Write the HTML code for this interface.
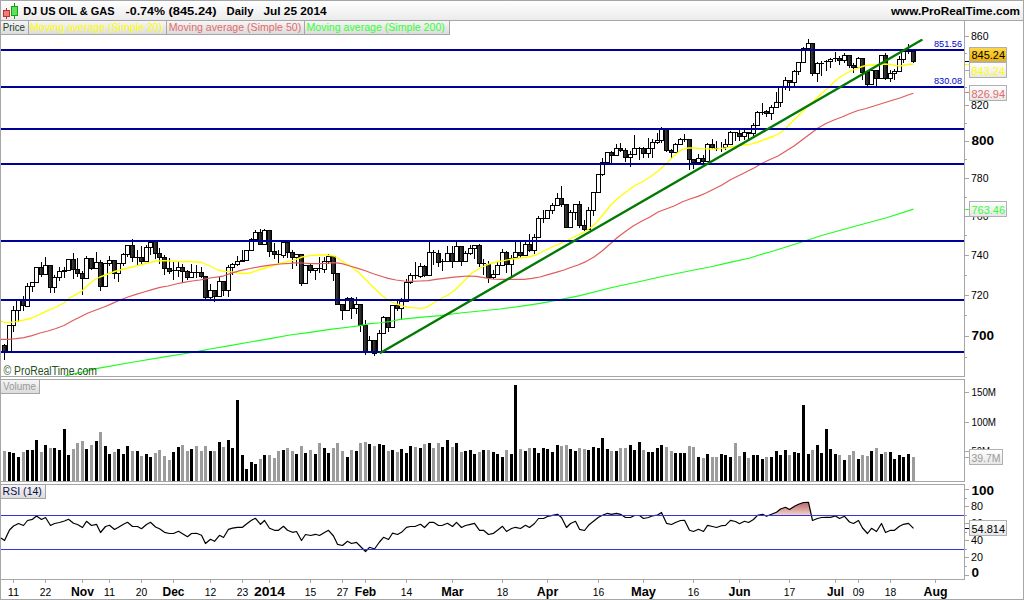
<!DOCTYPE html>
<html lang="en"><head><meta charset="utf-8"><title>DJ US OIL &amp; GAS - Daily chart</title>
<style>
html,body{margin:0;padding:0;background:#fff;}
body{width:1024px;height:600px;overflow:hidden;position:relative;font-family:'Liberation Sans', sans-serif;}
svg{position:absolute;left:0;top:0;display:block;}
text{font-family:'Liberation Sans', sans-serif;}
.ax{font-size:11px;fill:#000;}
.axb{font-size:13px;font-weight:bold;fill:#000;}
.xl{font-size:11px;fill:#000;text-anchor:middle;}
.xb{font-size:12.5px;font-weight:bold;fill:#000;text-anchor:middle;}
.tt{font-size:11px;font-weight:bold;fill:#000;}
.tab{font-size:11px;}
</style></head><body>
<svg width="1024" height="600" viewBox="0 0 1024 600">
<defs>
<linearGradient id="gTitle" x1="0" y1="0" x2="0" y2="1"><stop offset="0" stop-color="#ffffff"/><stop offset="1" stop-color="#ebebeb"/></linearGradient>
<linearGradient id="gTab" x1="0" y1="0" x2="0" y2="1"><stop offset="0" stop-color="#f6f6f6"/><stop offset="1" stop-color="#dcdcdc"/></linearGradient>
<linearGradient id="gBox" x1="0" y1="0" x2="0" y2="1"><stop offset="0" stop-color="#ffffff"/><stop offset="1" stop-color="#e6e6e6"/></linearGradient>
<linearGradient id="gGold" x1="0" y1="0" x2="0" y2="1"><stop offset="0" stop-color="#ffd84a"/><stop offset="1" stop-color="#efb200"/></linearGradient>
<linearGradient id="gCan" x1="0" y1="0" x2="1" y2="0"><stop offset="0" stop-color="#4a4a4a"/><stop offset="1" stop-color="#0a0a0a"/></linearGradient>
<linearGradient id="gRsi" gradientUnits="userSpaceOnUse" x1="0" y1="502" x2="0" y2="515"><stop offset="0" stop-color="#b86464"/><stop offset="1" stop-color="#f2d2c8"/></linearGradient>
<clipPath id="cRsi"><rect x="1" y="485" width="963" height="30"/></clipPath>
<clipPath id="cMain"><rect x="1" y="21" width="963" height="355"/></clipPath>
</defs>
<rect x="0" y="0" width="1024" height="600" fill="#fff"/>
<rect x="1" y="1" width="1022" height="19" fill="url(#gTitle)"/>
<g shape-rendering="crispEdges" fill="#a6a6a6">
<rect x="0" y="0" width="1024" height="1"/>
<rect x="0" y="599" width="1024" height="1"/>
<rect x="0" y="0" width="1" height="600"/>
<rect x="1023" y="0" width="1" height="600"/>
<rect x="0" y="20" width="1024" height="1"/>
<rect x="0" y="376" width="965" height="1"/>
<rect x="0" y="379" width="965" height="1"/>
<rect x="0" y="481" width="965" height="1"/>
<rect x="0" y="484" width="965" height="1"/>
<rect x="0" y="579" width="965" height="1"/>
<rect x="964" y="21" width="1" height="356"/>
<rect x="964" y="379" width="1" height="103"/>
<rect x="964" y="484" width="1" height="96"/>
</g>
<g shape-rendering="crispEdges">
<rect x="1" y="21" width="449" height="13" fill="url(#gTab)"/>
<rect x="0" y="34" width="450" height="1" fill="#a6a6a6"/>
<rect x="28" y="21" width="1" height="14" fill="#a6a6a6"/>
<rect x="166" y="21" width="1" height="14" fill="#a6a6a6"/>
<rect x="304" y="21" width="1" height="14" fill="#a6a6a6"/>
<rect x="449" y="21" width="1" height="14" fill="#a6a6a6"/>
<rect x="1" y="380" width="38" height="13" fill="url(#gTab)"/>
<rect x="1" y="393" width="39" height="1" fill="#a6a6a6"/><rect x="39" y="380" width="1" height="14" fill="#a6a6a6"/>
<rect x="1" y="485" width="44" height="13" fill="url(#gTab)"/>
<rect x="1" y="498" width="45" height="1" fill="#a6a6a6"/><rect x="45" y="485" width="1" height="14" fill="#a6a6a6"/>
</g>
<g shape-rendering="crispEdges">
<rect x="6" y="8" width="1" height="11" fill="#c03030"/>
<rect x="3.5" y="10.5" width="6" height="6" fill="#f07a7a" stroke="#c03030" stroke-width="1"/>
<rect x="14" y="3" width="1" height="16" fill="#18a018"/>
<rect x="11.5" y="6.5" width="6" height="9" fill="#5fe05f" stroke="#18a018" stroke-width="1"/>
</g>
<text x="23.2" y="15.0" class="tt" textLength="91.4" lengthAdjust="spacingAndGlyphs">DJ US OIL &amp; GAS</text>
<text x="125.6" y="15.0" class="tt" textLength="39.4" lengthAdjust="spacingAndGlyphs">-0.74%</text>
<text x="168.4" y="15.0" class="tt" textLength="48.2" lengthAdjust="spacingAndGlyphs">(845.24)</text>
<text x="226.6" y="15.0" class="tt" textLength="26.9" lengthAdjust="spacingAndGlyphs">Daily</text>
<text x="263.5" y="15.0" class="tt" textLength="63.1" lengthAdjust="spacingAndGlyphs">Jul 25 2014</text>
<text x="891.0" y="15.0" class="tt" textLength="129.0" lengthAdjust="spacingAndGlyphs">www.ProRealTime.com</text>
<text x="2.8" y="31.0" class="tab" textLength="22.2" lengthAdjust="spacingAndGlyphs" fill="#20402a">Price</text>
<text x="30.3" y="31.0" class="tab" textLength="131.9" lengthAdjust="spacingAndGlyphs" fill="#ffff00">Moving average (Simple 20)</text>
<text x="168.8" y="31.0" class="tab" textLength="132.4" lengthAdjust="spacingAndGlyphs" fill="#e26a6a">Moving average (Simple 50)</text>
<text x="306.5" y="31.0" class="tab" textLength="138.3" lengthAdjust="spacingAndGlyphs" fill="#33ff33">Moving average (Simple 200)</text>
<text x="3.0" y="390.0" class="tab" textLength="33.0" lengthAdjust="spacingAndGlyphs" fill="#9a9a9a">Volume</text>
<text x="2.6" y="495.2" class="tab" textLength="39.3" lengthAdjust="spacingAndGlyphs" fill="#0c0c50">RSI (14)</text>
<g clip-path="url(#cMain)">
<g shape-rendering="crispEdges">
<rect x="4" y="344" width="1" height="16" fill="#000"/>
<rect x="2.5" y="345.5" width="4" height="6.0" fill="url(#gCan)" stroke="#000" stroke-width="1"/>
<rect x="9" y="325" width="1" height="27" fill="#000"/>
<rect x="7.5" y="325.5" width="4" height="26.0" fill="#fff" stroke="#000" stroke-width="1"/>
<rect x="13" y="306" width="1" height="26" fill="#000"/>
<rect x="11.5" y="310.5" width="4" height="15.0" fill="#fff" stroke="#000" stroke-width="1"/>
<rect x="18" y="300" width="1" height="22" fill="#000"/>
<rect x="16.5" y="300.5" width="4" height="10.0" fill="#fff" stroke="#000" stroke-width="1"/>
<rect x="23" y="296" width="1" height="15" fill="#000"/>
<rect x="21.5" y="300.5" width="4" height="5.0" fill="url(#gCan)" stroke="#000" stroke-width="1"/>
<rect x="27" y="283" width="1" height="24" fill="#000"/>
<rect x="25.5" y="286.5" width="4" height="20.0" fill="#fff" stroke="#000" stroke-width="1"/>
<rect x="32" y="282" width="1" height="10" fill="#000"/>
<rect x="30.5" y="282.5" width="4" height="4.0" fill="#fff" stroke="#000" stroke-width="1"/>
<rect x="36" y="267" width="1" height="16" fill="#000"/>
<rect x="34.5" y="267.5" width="4" height="15.0" fill="#fff" stroke="#000" stroke-width="1"/>
<rect x="41" y="262" width="1" height="15" fill="#000"/>
<rect x="39.5" y="267.5" width="4" height="7.0" fill="url(#gCan)" stroke="#000" stroke-width="1"/>
<rect x="45" y="257" width="1" height="18" fill="#000"/>
<rect x="43.5" y="265.5" width="4" height="9.0" fill="#fff" stroke="#000" stroke-width="1"/>
<rect x="50" y="265" width="1" height="28" fill="#000"/>
<rect x="48.5" y="265.5" width="4" height="22.0" fill="url(#gCan)" stroke="#000" stroke-width="1"/>
<rect x="54" y="275" width="1" height="18" fill="#000"/>
<rect x="52.5" y="277.5" width="4" height="10.0" fill="#fff" stroke="#000" stroke-width="1"/>
<rect x="59" y="267" width="1" height="14" fill="#000"/>
<rect x="57.5" y="271.5" width="4" height="6.0" fill="#fff" stroke="#000" stroke-width="1"/>
<rect x="64" y="267" width="1" height="11" fill="#000"/>
<rect x="62.5" y="270.5" width="4" height="1.0" fill="#fff" stroke="#000" stroke-width="1"/>
<rect x="68" y="259" width="1" height="12" fill="#000"/>
<rect x="66.5" y="259.5" width="4" height="11.0" fill="#fff" stroke="#000" stroke-width="1"/>
<rect x="73" y="253" width="1" height="26" fill="#000"/>
<rect x="71.5" y="259.5" width="4" height="10.0" fill="url(#gCan)" stroke="#000" stroke-width="1"/>
<rect x="77" y="258" width="1" height="19" fill="#000"/>
<rect x="75.5" y="269.5" width="4" height="4.0" fill="url(#gCan)" stroke="#000" stroke-width="1"/>
<rect x="82" y="271" width="1" height="24" fill="#000"/>
<rect x="80.5" y="273.5" width="4" height="5.0" fill="url(#gCan)" stroke="#000" stroke-width="1"/>
<rect x="86" y="256" width="1" height="23" fill="#000"/>
<rect x="84.5" y="258.5" width="4" height="20.0" fill="#fff" stroke="#000" stroke-width="1"/>
<rect x="91" y="258" width="1" height="12" fill="#000"/>
<rect x="89.5" y="258.5" width="4" height="10.0" fill="url(#gCan)" stroke="#000" stroke-width="1"/>
<rect x="96" y="252" width="1" height="17" fill="#000"/>
<rect x="94.5" y="262.5" width="4" height="6.0" fill="#fff" stroke="#000" stroke-width="1"/>
<rect x="100" y="260" width="1" height="31" fill="#000"/>
<rect x="98.5" y="262.5" width="4" height="24.0" fill="url(#gCan)" stroke="#000" stroke-width="1"/>
<rect x="105" y="263" width="1" height="24" fill="#000"/>
<rect x="103.5" y="263.5" width="4" height="23.0" fill="#fff" stroke="#000" stroke-width="1"/>
<rect x="109" y="256" width="1" height="10" fill="#000"/>
<rect x="107.5" y="260.5" width="4" height="3.0" fill="#fff" stroke="#000" stroke-width="1"/>
<rect x="114" y="260" width="1" height="19" fill="#000"/>
<rect x="112.5" y="260.5" width="4" height="13.0" fill="url(#gCan)" stroke="#000" stroke-width="1"/>
<rect x="118" y="263" width="1" height="19" fill="#000"/>
<rect x="116.5" y="263.5" width="4" height="10.0" fill="#fff" stroke="#000" stroke-width="1"/>
<rect x="123" y="253" width="1" height="13" fill="#000"/>
<rect x="121.5" y="254.5" width="4" height="9.0" fill="#fff" stroke="#000" stroke-width="1"/>
<rect x="127" y="245" width="1" height="12" fill="#000"/>
<rect x="125.5" y="245.5" width="4" height="9.0" fill="#fff" stroke="#000" stroke-width="1"/>
<rect x="132" y="239" width="1" height="23" fill="#000"/>
<rect x="130.5" y="245.5" width="4" height="12.0" fill="url(#gCan)" stroke="#000" stroke-width="1"/>
<rect x="137" y="250" width="1" height="16" fill="#000"/>
<rect x="135" y="257" width="5" height="1" fill="#000"/>
<rect x="141" y="246" width="1" height="19" fill="#000"/>
<rect x="139.5" y="257.5" width="4" height="4.0" fill="url(#gCan)" stroke="#000" stroke-width="1"/>
<rect x="146" y="245" width="1" height="17" fill="#000"/>
<rect x="144.5" y="247.5" width="4" height="14.0" fill="#fff" stroke="#000" stroke-width="1"/>
<rect x="150" y="242" width="1" height="13" fill="#000"/>
<rect x="148.5" y="242.5" width="4" height="5.0" fill="#fff" stroke="#000" stroke-width="1"/>
<rect x="155" y="241" width="1" height="18" fill="#000"/>
<rect x="153.5" y="241.5" width="4" height="12.0" fill="url(#gCan)" stroke="#000" stroke-width="1"/>
<rect x="159" y="248" width="1" height="16" fill="#000"/>
<rect x="157.5" y="253.5" width="4" height="4.0" fill="url(#gCan)" stroke="#000" stroke-width="1"/>
<rect x="164" y="255" width="1" height="20" fill="#000"/>
<rect x="162.5" y="257.5" width="4" height="11.0" fill="url(#gCan)" stroke="#000" stroke-width="1"/>
<rect x="169" y="258" width="1" height="16" fill="#000"/>
<rect x="167.5" y="268.5" width="4" height="3.0" fill="url(#gCan)" stroke="#000" stroke-width="1"/>
<rect x="173" y="262" width="1" height="18" fill="#000"/>
<rect x="171" y="270" width="5" height="1" fill="#000"/>
<rect x="178" y="262" width="1" height="15" fill="#000"/>
<rect x="176.5" y="267.5" width="4" height="3.0" fill="#fff" stroke="#000" stroke-width="1"/>
<rect x="182" y="264" width="1" height="19" fill="#000"/>
<rect x="180.5" y="267.5" width="4" height="4.0" fill="url(#gCan)" stroke="#000" stroke-width="1"/>
<rect x="187" y="270" width="1" height="10" fill="#000"/>
<rect x="185.5" y="271.5" width="4" height="6.0" fill="url(#gCan)" stroke="#000" stroke-width="1"/>
<rect x="191" y="264" width="1" height="14" fill="#000"/>
<rect x="189.5" y="272.5" width="4" height="5.0" fill="#fff" stroke="#000" stroke-width="1"/>
<rect x="196" y="265" width="1" height="13" fill="#000"/>
<rect x="194" y="272" width="5" height="1" fill="#000"/>
<rect x="201" y="267" width="1" height="11" fill="#000"/>
<rect x="199.5" y="272.5" width="4" height="4.0" fill="url(#gCan)" stroke="#000" stroke-width="1"/>
<rect x="205" y="276" width="1" height="24" fill="#000"/>
<rect x="203.5" y="276.5" width="4" height="21.0" fill="url(#gCan)" stroke="#000" stroke-width="1"/>
<rect x="210" y="284" width="1" height="16" fill="#000"/>
<rect x="208.5" y="290.5" width="4" height="7.0" fill="#fff" stroke="#000" stroke-width="1"/>
<rect x="214" y="290" width="1" height="12" fill="#000"/>
<rect x="212.5" y="290.5" width="4" height="6.0" fill="url(#gCan)" stroke="#000" stroke-width="1"/>
<rect x="219" y="277" width="1" height="20" fill="#000"/>
<rect x="217.5" y="281.5" width="4" height="15.0" fill="#fff" stroke="#000" stroke-width="1"/>
<rect x="223" y="281" width="1" height="15" fill="#000"/>
<rect x="221.5" y="281.5" width="4" height="9.0" fill="url(#gCan)" stroke="#000" stroke-width="1"/>
<rect x="228" y="265" width="1" height="32" fill="#000"/>
<rect x="226.5" y="267.5" width="4" height="23.0" fill="#fff" stroke="#000" stroke-width="1"/>
<rect x="232" y="263" width="1" height="12" fill="#000"/>
<rect x="230.5" y="264.5" width="4" height="3.0" fill="#fff" stroke="#000" stroke-width="1"/>
<rect x="237" y="256" width="1" height="10" fill="#000"/>
<rect x="235.5" y="261.5" width="4" height="3.0" fill="#fff" stroke="#000" stroke-width="1"/>
<rect x="242" y="250" width="1" height="12" fill="#000"/>
<rect x="240.5" y="260.5" width="4" height="1.0" fill="#fff" stroke="#000" stroke-width="1"/>
<rect x="246" y="250" width="1" height="11" fill="#000"/>
<rect x="244.5" y="250.5" width="4" height="10.0" fill="#fff" stroke="#000" stroke-width="1"/>
<rect x="251" y="238" width="1" height="13" fill="#000"/>
<rect x="249.5" y="239.5" width="4" height="11.0" fill="#fff" stroke="#000" stroke-width="1"/>
<rect x="255" y="230" width="1" height="10" fill="#000"/>
<rect x="253.5" y="232.5" width="4" height="7.0" fill="#fff" stroke="#000" stroke-width="1"/>
<rect x="260" y="229" width="1" height="16" fill="#000"/>
<rect x="258.5" y="232.5" width="4" height="12.0" fill="url(#gCan)" stroke="#000" stroke-width="1"/>
<rect x="264" y="229" width="1" height="16" fill="#000"/>
<rect x="262.5" y="230.5" width="4" height="14.0" fill="#fff" stroke="#000" stroke-width="1"/>
<rect x="269" y="230" width="1" height="27" fill="#000"/>
<rect x="267.5" y="230.5" width="4" height="21.0" fill="url(#gCan)" stroke="#000" stroke-width="1"/>
<rect x="274" y="243" width="1" height="16" fill="#000"/>
<rect x="272.5" y="251.5" width="4" height="3.0" fill="url(#gCan)" stroke="#000" stroke-width="1"/>
<rect x="278" y="250" width="1" height="13" fill="#000"/>
<rect x="276" y="254" width="5" height="1" fill="#000"/>
<rect x="283" y="242" width="1" height="16" fill="#000"/>
<rect x="281.5" y="242.5" width="4" height="13.0" fill="#fff" stroke="#000" stroke-width="1"/>
<rect x="287" y="242" width="1" height="16" fill="#000"/>
<rect x="285.5" y="242.5" width="4" height="10.0" fill="url(#gCan)" stroke="#000" stroke-width="1"/>
<rect x="292" y="250" width="1" height="19" fill="#000"/>
<rect x="290.5" y="252.5" width="4" height="5.0" fill="url(#gCan)" stroke="#000" stroke-width="1"/>
<rect x="296" y="254" width="1" height="12" fill="#000"/>
<rect x="294.5" y="254.5" width="4" height="3.0" fill="#fff" stroke="#000" stroke-width="1"/>
<rect x="301" y="254" width="1" height="32" fill="#000"/>
<rect x="299.5" y="254.5" width="4" height="29.0" fill="url(#gCan)" stroke="#000" stroke-width="1"/>
<rect x="305" y="265" width="1" height="19" fill="#000"/>
<rect x="303.5" y="265.5" width="4" height="18.0" fill="#fff" stroke="#000" stroke-width="1"/>
<rect x="310" y="264" width="1" height="9" fill="#000"/>
<rect x="308.5" y="265.5" width="4" height="5.0" fill="url(#gCan)" stroke="#000" stroke-width="1"/>
<rect x="315" y="268" width="1" height="12" fill="#000"/>
<rect x="313.5" y="268.5" width="4" height="2.0" fill="#fff" stroke="#000" stroke-width="1"/>
<rect x="319" y="257" width="1" height="16" fill="#000"/>
<rect x="317" y="268" width="5" height="1" fill="#000"/>
<rect x="324" y="257" width="1" height="16" fill="#000"/>
<rect x="322.5" y="261.5" width="4" height="8.0" fill="#fff" stroke="#000" stroke-width="1"/>
<rect x="328" y="254" width="1" height="10" fill="#000"/>
<rect x="326.5" y="256.5" width="4" height="5.0" fill="#fff" stroke="#000" stroke-width="1"/>
<rect x="333" y="256" width="1" height="25" fill="#000"/>
<rect x="331.5" y="256.5" width="4" height="17.0" fill="url(#gCan)" stroke="#000" stroke-width="1"/>
<rect x="337" y="273" width="1" height="32" fill="#000"/>
<rect x="335.5" y="273.5" width="4" height="31.0" fill="url(#gCan)" stroke="#000" stroke-width="1"/>
<rect x="342" y="304" width="1" height="16" fill="#000"/>
<rect x="340.5" y="304.5" width="4" height="6.0" fill="url(#gCan)" stroke="#000" stroke-width="1"/>
<rect x="347" y="297" width="1" height="14" fill="#000"/>
<rect x="345.5" y="298.5" width="4" height="12.0" fill="#fff" stroke="#000" stroke-width="1"/>
<rect x="351" y="297" width="1" height="22" fill="#000"/>
<rect x="349.5" y="298.5" width="4" height="10.0" fill="url(#gCan)" stroke="#000" stroke-width="1"/>
<rect x="356" y="297" width="1" height="17" fill="#000"/>
<rect x="354.5" y="304.5" width="4" height="4.0" fill="#fff" stroke="#000" stroke-width="1"/>
<rect x="360" y="304" width="1" height="28" fill="#000"/>
<rect x="358.5" y="304.5" width="4" height="21.0" fill="url(#gCan)" stroke="#000" stroke-width="1"/>
<rect x="365" y="320" width="1" height="35" fill="#000"/>
<rect x="363.5" y="325.5" width="4" height="26.0" fill="url(#gCan)" stroke="#000" stroke-width="1"/>
<rect x="369" y="336" width="1" height="16" fill="#000"/>
<rect x="367.5" y="340.5" width="4" height="11.0" fill="#fff" stroke="#000" stroke-width="1"/>
<rect x="374" y="340" width="1" height="16" fill="#000"/>
<rect x="372.5" y="340.5" width="4" height="13.0" fill="url(#gCan)" stroke="#000" stroke-width="1"/>
<rect x="379" y="330" width="1" height="22" fill="#000"/>
<rect x="377.5" y="333.5" width="4" height="18.0" fill="#fff" stroke="#000" stroke-width="1"/>
<rect x="383" y="316" width="1" height="18" fill="#000"/>
<rect x="381.5" y="317.5" width="4" height="16.0" fill="#fff" stroke="#000" stroke-width="1"/>
<rect x="388" y="317" width="1" height="15" fill="#000"/>
<rect x="386.5" y="317.5" width="4" height="10.0" fill="url(#gCan)" stroke="#000" stroke-width="1"/>
<rect x="392" y="305" width="1" height="23" fill="#000"/>
<rect x="390.5" y="305.5" width="4" height="22.0" fill="#fff" stroke="#000" stroke-width="1"/>
<rect x="397" y="301" width="1" height="10" fill="#000"/>
<rect x="395.5" y="305.5" width="4" height="3.0" fill="url(#gCan)" stroke="#000" stroke-width="1"/>
<rect x="401" y="298" width="1" height="22" fill="#000"/>
<rect x="399.5" y="301.5" width="4" height="7.0" fill="#fff" stroke="#000" stroke-width="1"/>
<rect x="406" y="279" width="1" height="23" fill="#000"/>
<rect x="404.5" y="282.5" width="4" height="19.0" fill="#fff" stroke="#000" stroke-width="1"/>
<rect x="410" y="273" width="1" height="11" fill="#000"/>
<rect x="408.5" y="275.5" width="4" height="7.0" fill="#fff" stroke="#000" stroke-width="1"/>
<rect x="415" y="262" width="1" height="17" fill="#000"/>
<rect x="413" y="275" width="5" height="1" fill="#000"/>
<rect x="420" y="263" width="1" height="15" fill="#000"/>
<rect x="418.5" y="266.5" width="4" height="10.0" fill="#fff" stroke="#000" stroke-width="1"/>
<rect x="424" y="265" width="1" height="12" fill="#000"/>
<rect x="422.5" y="266.5" width="4" height="9.0" fill="url(#gCan)" stroke="#000" stroke-width="1"/>
<rect x="429" y="242" width="1" height="34" fill="#000"/>
<rect x="427.5" y="252.5" width="4" height="23.0" fill="#fff" stroke="#000" stroke-width="1"/>
<rect x="433" y="250" width="1" height="15" fill="#000"/>
<rect x="431" y="252" width="5" height="1" fill="#000"/>
<rect x="438" y="250" width="1" height="17" fill="#000"/>
<rect x="436.5" y="253.5" width="4" height="9.0" fill="url(#gCan)" stroke="#000" stroke-width="1"/>
<rect x="442" y="259" width="1" height="12" fill="#000"/>
<rect x="440" y="261" width="5" height="1" fill="#000"/>
<rect x="447" y="246" width="1" height="16" fill="#000"/>
<rect x="445.5" y="253.5" width="4" height="8.0" fill="#fff" stroke="#000" stroke-width="1"/>
<rect x="452" y="246" width="1" height="22" fill="#000"/>
<rect x="450.5" y="253.5" width="4" height="8.0" fill="url(#gCan)" stroke="#000" stroke-width="1"/>
<rect x="456" y="242" width="1" height="20" fill="#000"/>
<rect x="454.5" y="246.5" width="4" height="15.0" fill="#fff" stroke="#000" stroke-width="1"/>
<rect x="461" y="246" width="1" height="20" fill="#000"/>
<rect x="459.5" y="246.5" width="4" height="15.0" fill="url(#gCan)" stroke="#000" stroke-width="1"/>
<rect x="465" y="251" width="1" height="11" fill="#000"/>
<rect x="463.5" y="253.5" width="4" height="8.0" fill="#fff" stroke="#000" stroke-width="1"/>
<rect x="470" y="245" width="1" height="10" fill="#000"/>
<rect x="468.5" y="248.5" width="4" height="5.0" fill="#fff" stroke="#000" stroke-width="1"/>
<rect x="474" y="245" width="1" height="14" fill="#000"/>
<rect x="472.5" y="245.5" width="4" height="3.0" fill="#fff" stroke="#000" stroke-width="1"/>
<rect x="479" y="244" width="1" height="23" fill="#000"/>
<rect x="477.5" y="245.5" width="4" height="18.0" fill="url(#gCan)" stroke="#000" stroke-width="1"/>
<rect x="483" y="259" width="1" height="16" fill="#000"/>
<rect x="481" y="263" width="5" height="1" fill="#000"/>
<rect x="488" y="261" width="1" height="22" fill="#000"/>
<rect x="486.5" y="264.5" width="4" height="13.0" fill="url(#gCan)" stroke="#000" stroke-width="1"/>
<rect x="493" y="270" width="1" height="9" fill="#000"/>
<rect x="491.5" y="274.5" width="4" height="3.0" fill="#fff" stroke="#000" stroke-width="1"/>
<rect x="497" y="262" width="1" height="13" fill="#000"/>
<rect x="495.5" y="265.5" width="4" height="9.0" fill="#fff" stroke="#000" stroke-width="1"/>
<rect x="502" y="249" width="1" height="17" fill="#000"/>
<rect x="500.5" y="252.5" width="4" height="13.0" fill="#fff" stroke="#000" stroke-width="1"/>
<rect x="506" y="251" width="1" height="22" fill="#000"/>
<rect x="504.5" y="252.5" width="4" height="12.0" fill="url(#gCan)" stroke="#000" stroke-width="1"/>
<rect x="511" y="255" width="1" height="21" fill="#000"/>
<rect x="509.5" y="258.5" width="4" height="6.0" fill="#fff" stroke="#000" stroke-width="1"/>
<rect x="515" y="242" width="1" height="16" fill="#000"/>
<rect x="513.5" y="252.5" width="4" height="5.0" fill="#fff" stroke="#000" stroke-width="1"/>
<rect x="520" y="242" width="1" height="16" fill="#000"/>
<rect x="518.5" y="252.5" width="4" height="3.0" fill="url(#gCan)" stroke="#000" stroke-width="1"/>
<rect x="525" y="242" width="1" height="14" fill="#000"/>
<rect x="523.5" y="244.5" width="4" height="11.0" fill="#fff" stroke="#000" stroke-width="1"/>
<rect x="529" y="234" width="1" height="18" fill="#000"/>
<rect x="527.5" y="244.5" width="4" height="6.0" fill="url(#gCan)" stroke="#000" stroke-width="1"/>
<rect x="534" y="234" width="1" height="20" fill="#000"/>
<rect x="532.5" y="237.5" width="4" height="13.0" fill="#fff" stroke="#000" stroke-width="1"/>
<rect x="538" y="216" width="1" height="22" fill="#000"/>
<rect x="536.5" y="218.5" width="4" height="19.0" fill="#fff" stroke="#000" stroke-width="1"/>
<rect x="543" y="210" width="1" height="13" fill="#000"/>
<rect x="541" y="218" width="5" height="1" fill="#000"/>
<rect x="547" y="210" width="1" height="9" fill="#000"/>
<rect x="545.5" y="210.5" width="4" height="8.0" fill="#fff" stroke="#000" stroke-width="1"/>
<rect x="552" y="203" width="1" height="11" fill="#000"/>
<rect x="550.5" y="205.5" width="4" height="5.0" fill="#fff" stroke="#000" stroke-width="1"/>
<rect x="557" y="193" width="1" height="13" fill="#000"/>
<rect x="555.5" y="198.5" width="4" height="7.0" fill="#fff" stroke="#000" stroke-width="1"/>
<rect x="561" y="186" width="1" height="21" fill="#000"/>
<rect x="559.5" y="198.5" width="4" height="6.0" fill="url(#gCan)" stroke="#000" stroke-width="1"/>
<rect x="566" y="204" width="1" height="24" fill="#000"/>
<rect x="564.5" y="204.5" width="4" height="23.0" fill="url(#gCan)" stroke="#000" stroke-width="1"/>
<rect x="570" y="210" width="1" height="18" fill="#000"/>
<rect x="568.5" y="212.5" width="4" height="15.0" fill="#fff" stroke="#000" stroke-width="1"/>
<rect x="575" y="204" width="1" height="16" fill="#000"/>
<rect x="573.5" y="204.5" width="4" height="8.0" fill="#fff" stroke="#000" stroke-width="1"/>
<rect x="579" y="201" width="1" height="27" fill="#000"/>
<rect x="577.5" y="204.5" width="4" height="21.0" fill="url(#gCan)" stroke="#000" stroke-width="1"/>
<rect x="584" y="220" width="1" height="11" fill="#000"/>
<rect x="582.5" y="225.5" width="4" height="4.0" fill="url(#gCan)" stroke="#000" stroke-width="1"/>
<rect x="588" y="207" width="1" height="23" fill="#000"/>
<rect x="586.5" y="210.5" width="4" height="19.0" fill="#fff" stroke="#000" stroke-width="1"/>
<rect x="593" y="192" width="1" height="24" fill="#000"/>
<rect x="591.5" y="192.5" width="4" height="18.0" fill="#fff" stroke="#000" stroke-width="1"/>
<rect x="598" y="174" width="1" height="19" fill="#000"/>
<rect x="596.5" y="174.5" width="4" height="18.0" fill="#fff" stroke="#000" stroke-width="1"/>
<rect x="602" y="158" width="1" height="18" fill="#000"/>
<rect x="600.5" y="162.5" width="4" height="12.0" fill="#fff" stroke="#000" stroke-width="1"/>
<rect x="607" y="152" width="1" height="11" fill="#000"/>
<rect x="605.5" y="152.5" width="4" height="10.0" fill="#fff" stroke="#000" stroke-width="1"/>
<rect x="611" y="151" width="1" height="13" fill="#000"/>
<rect x="609.5" y="152.5" width="4" height="3.0" fill="url(#gCan)" stroke="#000" stroke-width="1"/>
<rect x="616" y="144" width="1" height="12" fill="#000"/>
<rect x="614.5" y="148.5" width="4" height="7.0" fill="#fff" stroke="#000" stroke-width="1"/>
<rect x="620" y="143" width="1" height="9" fill="#000"/>
<rect x="618.5" y="148.5" width="4" height="2.0" fill="url(#gCan)" stroke="#000" stroke-width="1"/>
<rect x="625" y="148" width="1" height="14" fill="#000"/>
<rect x="623.5" y="150.5" width="4" height="7.0" fill="url(#gCan)" stroke="#000" stroke-width="1"/>
<rect x="630" y="151" width="1" height="16" fill="#000"/>
<rect x="628.5" y="154.5" width="4" height="3.0" fill="#fff" stroke="#000" stroke-width="1"/>
<rect x="634" y="135" width="1" height="20" fill="#000"/>
<rect x="632.5" y="148.5" width="4" height="6.0" fill="#fff" stroke="#000" stroke-width="1"/>
<rect x="639" y="147" width="1" height="13" fill="#000"/>
<rect x="637" y="148" width="5" height="1" fill="#000"/>
<rect x="643" y="147" width="1" height="11" fill="#000"/>
<rect x="641.5" y="148.5" width="4" height="5.0" fill="url(#gCan)" stroke="#000" stroke-width="1"/>
<rect x="648" y="138" width="1" height="20" fill="#000"/>
<rect x="646.5" y="148.5" width="4" height="5.0" fill="#fff" stroke="#000" stroke-width="1"/>
<rect x="652" y="139" width="1" height="19" fill="#000"/>
<rect x="650.5" y="142.5" width="4" height="6.0" fill="#fff" stroke="#000" stroke-width="1"/>
<rect x="657" y="133" width="1" height="11" fill="#000"/>
<rect x="655.5" y="140.5" width="4" height="2.0" fill="#fff" stroke="#000" stroke-width="1"/>
<rect x="661" y="127" width="1" height="16" fill="#000"/>
<rect x="659.5" y="129.5" width="4" height="11.0" fill="#fff" stroke="#000" stroke-width="1"/>
<rect x="666" y="129" width="1" height="23" fill="#000"/>
<rect x="664.5" y="129.5" width="4" height="21.0" fill="url(#gCan)" stroke="#000" stroke-width="1"/>
<rect x="671" y="149" width="1" height="10" fill="#000"/>
<rect x="669.5" y="150.5" width="4" height="2.0" fill="url(#gCan)" stroke="#000" stroke-width="1"/>
<rect x="675" y="143" width="1" height="10" fill="#000"/>
<rect x="673.5" y="144.5" width="4" height="8.0" fill="#fff" stroke="#000" stroke-width="1"/>
<rect x="680" y="138" width="1" height="7" fill="#000"/>
<rect x="678.5" y="139.5" width="4" height="5.0" fill="#fff" stroke="#000" stroke-width="1"/>
<rect x="684" y="134" width="1" height="8" fill="#000"/>
<rect x="682" y="139" width="5" height="1" fill="#000"/>
<rect x="689" y="139" width="1" height="31" fill="#000"/>
<rect x="687.5" y="139.5" width="4" height="20.0" fill="url(#gCan)" stroke="#000" stroke-width="1"/>
<rect x="693" y="159" width="1" height="10" fill="#000"/>
<rect x="691.5" y="159.5" width="4" height="3.0" fill="url(#gCan)" stroke="#000" stroke-width="1"/>
<rect x="698" y="154" width="1" height="9" fill="#000"/>
<rect x="696.5" y="158.5" width="4" height="4.0" fill="#fff" stroke="#000" stroke-width="1"/>
<rect x="703" y="155" width="1" height="8" fill="#000"/>
<rect x="701.5" y="158.5" width="4" height="3.0" fill="url(#gCan)" stroke="#000" stroke-width="1"/>
<rect x="707" y="143" width="1" height="19" fill="#000"/>
<rect x="705.5" y="144.5" width="4" height="17.0" fill="#fff" stroke="#000" stroke-width="1"/>
<rect x="712" y="139" width="1" height="10" fill="#000"/>
<rect x="710.5" y="144.5" width="4" height="3.0" fill="url(#gCan)" stroke="#000" stroke-width="1"/>
<rect x="716" y="141" width="1" height="10" fill="#000"/>
<rect x="714" y="148" width="5" height="1" fill="#000"/>
<rect x="721" y="142" width="1" height="10" fill="#000"/>
<rect x="719" y="148" width="5" height="1" fill="#000"/>
<rect x="725" y="139" width="1" height="11" fill="#000"/>
<rect x="723.5" y="144.5" width="4" height="3.0" fill="#fff" stroke="#000" stroke-width="1"/>
<rect x="730" y="131" width="1" height="14" fill="#000"/>
<rect x="728.5" y="132.5" width="4" height="12.0" fill="#fff" stroke="#000" stroke-width="1"/>
<rect x="735" y="132" width="1" height="9" fill="#000"/>
<rect x="733" y="132" width="5" height="1" fill="#000"/>
<rect x="739" y="130" width="1" height="11" fill="#000"/>
<rect x="737.5" y="133.5" width="4" height="3.0" fill="url(#gCan)" stroke="#000" stroke-width="1"/>
<rect x="744" y="130" width="1" height="10" fill="#000"/>
<rect x="742.5" y="132.5" width="4" height="4.0" fill="#fff" stroke="#000" stroke-width="1"/>
<rect x="748" y="132" width="1" height="7" fill="#000"/>
<rect x="746.5" y="132.5" width="4" height="1.0" fill="url(#gCan)" stroke="#000" stroke-width="1"/>
<rect x="753" y="123" width="1" height="13" fill="#000"/>
<rect x="751.5" y="125.5" width="4" height="8.0" fill="#fff" stroke="#000" stroke-width="1"/>
<rect x="757" y="111" width="1" height="15" fill="#000"/>
<rect x="755.5" y="112.5" width="4" height="13.0" fill="#fff" stroke="#000" stroke-width="1"/>
<rect x="762" y="103" width="1" height="12" fill="#000"/>
<rect x="760" y="112" width="5" height="1" fill="#000"/>
<rect x="766" y="110" width="1" height="7" fill="#000"/>
<rect x="764.5" y="111.5" width="4" height="2.0" fill="url(#gCan)" stroke="#000" stroke-width="1"/>
<rect x="771" y="105" width="1" height="15" fill="#000"/>
<rect x="769.5" y="107.5" width="4" height="6.0" fill="#fff" stroke="#000" stroke-width="1"/>
<rect x="776" y="92" width="1" height="16" fill="#000"/>
<rect x="774.5" y="102.5" width="4" height="5.0" fill="#fff" stroke="#000" stroke-width="1"/>
<rect x="780" y="87" width="1" height="20" fill="#000"/>
<rect x="778.5" y="87.5" width="4" height="15.0" fill="#fff" stroke="#000" stroke-width="1"/>
<rect x="785" y="77" width="1" height="13" fill="#000"/>
<rect x="783.5" y="80.5" width="4" height="7.0" fill="#fff" stroke="#000" stroke-width="1"/>
<rect x="789" y="80" width="1" height="11" fill="#000"/>
<rect x="787.5" y="80.5" width="4" height="2.0" fill="url(#gCan)" stroke="#000" stroke-width="1"/>
<rect x="794" y="70" width="1" height="16" fill="#000"/>
<rect x="792.5" y="71.5" width="4" height="11.0" fill="#fff" stroke="#000" stroke-width="1"/>
<rect x="798" y="62" width="1" height="13" fill="#000"/>
<rect x="796.5" y="62.5" width="4" height="9.0" fill="#fff" stroke="#000" stroke-width="1"/>
<rect x="803" y="47" width="1" height="16" fill="#000"/>
<rect x="801.5" y="48.5" width="4" height="14.0" fill="#fff" stroke="#000" stroke-width="1"/>
<rect x="808" y="39" width="1" height="10" fill="#000"/>
<rect x="806.5" y="43.5" width="4" height="5.0" fill="#fff" stroke="#000" stroke-width="1"/>
<rect x="812" y="43" width="1" height="33" fill="#000"/>
<rect x="810.5" y="43.5" width="4" height="30.0" fill="url(#gCan)" stroke="#000" stroke-width="1"/>
<rect x="817" y="62" width="1" height="20" fill="#000"/>
<rect x="815.5" y="63.5" width="4" height="10.0" fill="#fff" stroke="#000" stroke-width="1"/>
<rect x="821" y="61" width="1" height="15" fill="#000"/>
<rect x="819" y="63" width="5" height="1" fill="#000"/>
<rect x="826" y="60" width="1" height="11" fill="#000"/>
<rect x="824" y="61" width="5" height="1" fill="#000"/>
<rect x="830" y="58" width="1" height="10" fill="#000"/>
<rect x="828.5" y="59.5" width="4" height="2.0" fill="#fff" stroke="#000" stroke-width="1"/>
<rect x="835" y="52" width="1" height="10" fill="#000"/>
<rect x="833" y="58" width="5" height="1" fill="#000"/>
<rect x="839" y="56" width="1" height="9" fill="#000"/>
<rect x="837.5" y="58.5" width="4" height="2.0" fill="url(#gCan)" stroke="#000" stroke-width="1"/>
<rect x="844" y="53" width="1" height="10" fill="#000"/>
<rect x="842.5" y="55.5" width="4" height="5.0" fill="#fff" stroke="#000" stroke-width="1"/>
<rect x="849" y="55" width="1" height="13" fill="#000"/>
<rect x="847.5" y="55.5" width="4" height="10.0" fill="url(#gCan)" stroke="#000" stroke-width="1"/>
<rect x="853" y="63" width="1" height="10" fill="#000"/>
<rect x="851.5" y="65.5" width="4" height="2.0" fill="url(#gCan)" stroke="#000" stroke-width="1"/>
<rect x="858" y="57" width="1" height="11" fill="#000"/>
<rect x="856.5" y="58.5" width="4" height="9.0" fill="#fff" stroke="#000" stroke-width="1"/>
<rect x="862" y="58" width="1" height="22" fill="#000"/>
<rect x="860.5" y="58.5" width="4" height="14.0" fill="url(#gCan)" stroke="#000" stroke-width="1"/>
<rect x="867" y="72" width="1" height="14" fill="#000"/>
<rect x="865.5" y="72.5" width="4" height="12.0" fill="url(#gCan)" stroke="#000" stroke-width="1"/>
<rect x="871" y="70" width="1" height="15" fill="#000"/>
<rect x="869.5" y="70.5" width="4" height="14.0" fill="#fff" stroke="#000" stroke-width="1"/>
<rect x="876" y="70" width="1" height="16" fill="#000"/>
<rect x="874.5" y="70.5" width="4" height="8.0" fill="url(#gCan)" stroke="#000" stroke-width="1"/>
<rect x="881" y="55" width="1" height="24" fill="#000"/>
<rect x="879.5" y="55.5" width="4" height="23.0" fill="#fff" stroke="#000" stroke-width="1"/>
<rect x="885" y="53" width="1" height="27" fill="#000"/>
<rect x="883.5" y="55.5" width="4" height="23.0" fill="url(#gCan)" stroke="#000" stroke-width="1"/>
<rect x="890" y="70" width="1" height="12" fill="#000"/>
<rect x="888.5" y="73.5" width="4" height="5.0" fill="#fff" stroke="#000" stroke-width="1"/>
<rect x="894" y="69" width="1" height="11" fill="#000"/>
<rect x="892.5" y="71.5" width="4" height="2.0" fill="#fff" stroke="#000" stroke-width="1"/>
<rect x="899" y="56" width="1" height="16" fill="#000"/>
<rect x="897.5" y="59.5" width="4" height="12.0" fill="#fff" stroke="#000" stroke-width="1"/>
<rect x="903" y="51" width="1" height="12" fill="#000"/>
<rect x="901.5" y="51.5" width="4" height="8.0" fill="#fff" stroke="#000" stroke-width="1"/>
<rect x="908" y="44" width="1" height="10" fill="#000"/>
<rect x="906.5" y="50.5" width="4" height="1.0" fill="#fff" stroke="#000" stroke-width="1"/>
<rect x="913" y="51" width="1" height="12" fill="#000"/>
<rect x="911.5" y="51.5" width="4" height="10.0" fill="url(#gCan)" stroke="#000" stroke-width="1"/>
</g>
<path d="M1.0,321.6 L8.0,322.6 L16.0,321.6 L24.0,320.0 L32.0,318.0 L40.0,314.4 L48.0,310.4 L56.0,307.0 L64.0,303.0 L68.0,299.0 L76.0,294.4 L82.0,291.0 L88.0,285.0 L94.0,280.0 L100.0,277.0 L108.0,274.0 L116.0,271.0 L124.0,269.0 L132.0,267.0 L140.0,265.0 L148.0,263.0 L156.0,261.0 L164.0,260.6 L172.0,261.0 L180.0,261.6 L188.0,261.4 L198.0,262.0 L202.0,262.5 L210.0,266.0 L218.0,270.0 L224.0,271.4 L232.0,271.8 L238.0,273.0 L244.0,273.5 L250.0,273.0 L260.0,269.5 L270.0,266.5 L280.0,263.5 L286.0,261.8 L294.0,260.2 L302.0,257.0 L310.0,255.6 L318.0,255.0 L326.0,255.0 L334.0,256.0 L342.0,261.0 L350.0,266.0 L358.0,272.0 L366.0,280.0 L374.0,288.0 L382.0,295.5 L388.0,300.0 L396.0,304.0 L404.0,306.4 L412.0,307.6 L420.0,308.4 L426.0,307.6 L432.0,304.0 L440.0,299.0 L448.0,295.0 L454.0,291.0 L460.0,285.0 L466.0,279.0 L472.0,273.0 L480.0,268.0 L488.0,264.4 L496.0,262.0 L504.0,260.6 L512.0,259.0 L520.0,258.0 L528.0,257.0 L536.0,255.0 L544.0,251.0 L552.0,247.0 L560.0,243.6 L568.0,240.0 L576.0,236.0 L586.0,231.0 L594.0,225.0 L602.0,216.0 L610.0,206.0 L618.0,198.0 L626.0,192.0 L634.0,186.0 L642.0,182.0 L650.0,177.0 L658.0,171.0 L666.0,164.0 L672.0,158.0 L676.0,154.0 L682.0,149.6 L688.0,148.0 L694.0,148.0 L702.0,148.6 L710.0,149.0 L718.0,148.6 L726.0,148.0 L734.0,146.4 L742.0,145.0 L750.0,144.4 L758.0,142.0 L766.0,139.0 L774.0,136.0 L780.0,133.0 L786.0,128.0 L792.0,122.0 L798.0,116.0 L804.0,110.0 L810.0,104.0 L816.0,99.0 L822.0,93.0 L828.0,88.0 L834.0,82.0 L840.0,77.0 L846.0,73.5 L852.0,70.5 L858.0,68.0 L864.0,66.0 L870.0,65.0 L875.0,65.0 L880.0,64.5 L885.0,64.0 L890.0,64.3 L895.0,65.5 L900.0,66.2 L905.0,65.0 L910.0,64.2 L913.5,64.2" fill="none" stroke="#ffff00" stroke-width="1.35" stroke-linejoin="round"/>
<path d="M1.0,339.4 L8.0,339.4 L16.0,338.6 L24.0,337.6 L32.0,335.6 L40.0,333.0 L48.0,331.0 L56.0,328.5 L64.0,325.5 L72.0,321.0 L80.0,317.0 L88.0,313.0 L96.0,310.0 L104.0,307.0 L112.0,303.6 L120.0,300.0 L128.0,297.0 L136.0,294.4 L144.0,292.0 L152.0,289.6 L160.0,287.4 L168.0,286.0 L176.0,284.0 L184.0,282.4 L192.0,281.0 L200.0,280.0 L210.0,278.0 L220.0,276.6 L224.0,275.8 L230.0,273.6 L240.0,270.6 L250.0,268.5 L260.0,266.6 L270.0,265.1 L280.0,264.0 L290.0,263.3 L294.0,262.9 L302.0,263.0 L310.0,263.6 L318.0,263.6 L326.0,263.4 L334.0,262.6 L342.0,263.6 L350.0,266.0 L358.0,268.4 L366.0,271.0 L374.0,274.0 L382.0,276.5 L388.0,278.4 L396.0,280.0 L404.0,281.0 L412.0,281.4 L420.0,281.0 L428.0,280.6 L436.0,279.4 L444.0,278.4 L452.0,277.4 L460.0,276.6 L468.0,276.0 L476.0,276.4 L484.0,277.6 L492.0,279.0 L500.0,279.4 L508.0,279.4 L516.0,279.4 L524.0,279.4 L532.0,278.4 L540.0,277.0 L548.0,274.6 L556.0,272.4 L564.0,270.0 L572.0,267.0 L578.0,265.0 L586.0,261.6 L594.0,257.0 L602.0,251.0 L610.0,244.0 L618.0,237.0 L626.0,231.0 L634.0,225.6 L642.0,221.0 L650.0,217.0 L658.0,212.0 L666.0,209.0 L674.0,206.0 L682.0,202.0 L690.0,199.0 L698.0,196.4 L706.0,193.0 L714.0,189.0 L722.0,185.0 L730.0,180.0 L738.0,176.0 L746.0,172.0 L754.0,168.0 L762.0,163.3 L770.0,159.5 L778.0,156.0 L786.0,151.0 L794.0,146.0 L802.0,140.0 L810.0,134.0 L818.0,128.0 L826.0,123.5 L834.0,120.0 L842.0,117.0 L850.0,113.5 L858.0,110.5 L866.0,108.5 L874.0,106.0 L882.0,103.5 L890.0,101.0 L900.0,98.0 L908.0,95.0 L913.5,93.3" fill="none" stroke="#e05c5c" stroke-width="1.2" stroke-linejoin="round"/>
<path d="M65.4,375.8 L97.7,368.4 L136.7,361.5 L166.0,356.6 L190.4,352.7 L202.0,350.6 L210.0,349.0 L230.0,345.6 L250.0,342.0 L270.0,338.6 L290.0,335.0 L310.0,332.4 L330.0,329.4 L350.0,327.0 L360.0,325.6 L370.0,323.6 L380.0,322.8 L390.0,321.5 L400.0,319.4 L420.0,317.4 L440.0,315.6 L460.0,313.0 L480.0,311.0 L500.0,309.0 L520.0,306.4 L540.0,303.4 L560.0,299.6 L580.0,295.6 L612.0,287.5 L640.0,281.5 L662.0,276.5 L694.0,270.0 L710.0,267.0 L730.0,262.4 L750.0,258.0 L760.0,254.7 L770.0,252.0 L791.6,245.2 L823.3,235.0 L855.0,226.2 L886.6,217.7 L913.5,209.1" fill="none" stroke="#1cff1c" stroke-width="1.15" stroke-linejoin="round"/>
<g shape-rendering="crispEdges" fill="#00009b">
<rect x="1" y="49" width="963" height="2"/>
<rect x="1" y="86" width="963" height="2"/>
<rect x="1" y="128" width="963" height="2"/>
<rect x="1" y="163" width="963" height="2"/>
<rect x="1" y="240" width="963" height="2"/>
<rect x="1" y="299" width="963" height="2"/>
<rect x="1" y="351" width="963" height="2"/>
</g>
<line x1="380.6" y1="352.7" x2="921.6" y2="40.1" stroke="#027a02" stroke-width="2.3" stroke-linecap="round"/>
</g>
<text x="934.0" y="47.0" class="tab" textLength="28.0" lengthAdjust="spacingAndGlyphs" fill="#0000cc" style="font-size:9.3px">851.56</text>
<text x="934.0" y="84.0" class="tab" textLength="28.0" lengthAdjust="spacingAndGlyphs" fill="#0000cc" style="font-size:9.3px">830.08</text>
<text x="3.5" y="374.6" class="tab" textLength="93.5" lengthAdjust="spacingAndGlyphs" fill="#274d1c" style="font-size:12px">&#169; ProRealTime.com</text>
<g shape-rendering="crispEdges" fill="#a6a6a6">
<rect x="965" y="357" width="2" height="1"/>
<rect x="965" y="336" width="4" height="1"/>
<rect x="965" y="315" width="2" height="1"/>
<rect x="965" y="295" width="4" height="1"/>
<rect x="965" y="275" width="2" height="1"/>
<rect x="965" y="255" width="4" height="1"/>
<rect x="965" y="235" width="2" height="1"/>
<rect x="965" y="216" width="4" height="1"/>
<rect x="965" y="197" width="2" height="1"/>
<rect x="965" y="178" width="4" height="1"/>
<rect x="965" y="159" width="2" height="1"/>
<rect x="965" y="141" width="4" height="1"/>
<rect x="965" y="123" width="2" height="1"/>
<rect x="965" y="105" width="4" height="1"/>
<rect x="965" y="87" width="2" height="1"/>
<rect x="965" y="70" width="4" height="1"/>
<rect x="965" y="53" width="2" height="1"/>
<rect x="965" y="36" width="4" height="1"/>
</g>
<text x="971.5" y="340.3" class="axb" textLength="22.5" lengthAdjust="spacingAndGlyphs">700</text>
<text x="971.0" y="299.0" class="ax" textLength="17.5" lengthAdjust="spacingAndGlyphs">720</text>
<text x="971.0" y="259.0" class="ax" textLength="17.5" lengthAdjust="spacingAndGlyphs">740</text>
<text x="971.0" y="220.0" class="ax" textLength="17.5" lengthAdjust="spacingAndGlyphs">760</text>
<text x="971.0" y="182.0" class="ax" textLength="17.5" lengthAdjust="spacingAndGlyphs">780</text>
<text x="971.5" y="145.3" class="axb" textLength="22.5" lengthAdjust="spacingAndGlyphs">800</text>
<text x="971.0" y="109.0" class="ax" textLength="17.5" lengthAdjust="spacingAndGlyphs">820</text>
<text x="971.0" y="74.0" class="ax" textLength="17.5" lengthAdjust="spacingAndGlyphs">840</text>
<text x="971.0" y="40.0" class="ax" textLength="17.5" lengthAdjust="spacingAndGlyphs">860</text>
<g shape-rendering="crispEdges">
<rect x="965" y="61" width="4" height="1" fill="#000"/>
<rect x="965" y="64" width="4" height="1" fill="#ffff00"/>
<rect x="965" y="92" width="4" height="1" fill="#e87878"/>
<rect x="965" y="209" width="4" height="1" fill="#33ff33"/>
<rect x="965" y="457" width="4" height="1" fill="#a6a6a6"/>
<rect x="965" y="528" width="4" height="1" fill="#000"/>
</g>
<rect x="969.5" y="47.5" width="37" height="14" fill="url(#gGold)" stroke="#b0b0b0" stroke-width="1" shape-rendering="crispEdges"/>
<text x="971.5" y="58.5" class="ax" textLength="33.5" lengthAdjust="spacingAndGlyphs" style="fill:#000">845.24</text>
<rect x="969.5" y="62.5" width="37" height="15" fill="url(#gBox)" stroke="#b0b0b0" stroke-width="1" shape-rendering="crispEdges"/>
<text x="971.5" y="74.5" class="ax" textLength="33.5" lengthAdjust="spacingAndGlyphs" style="fill:#ffff00">843.24</text>
<rect x="969.5" y="85.5" width="37" height="15" fill="url(#gBox)" stroke="#b0b0b0" stroke-width="1" shape-rendering="crispEdges"/>
<text x="971.5" y="97.5" class="ax" textLength="33.5" lengthAdjust="spacingAndGlyphs" style="fill:#e26a6a">826.94</text>
<rect x="969.5" y="201.5" width="37" height="15" fill="url(#gBox)" stroke="#b0b0b0" stroke-width="1" shape-rendering="crispEdges"/>
<text x="971.5" y="213.5" class="ax" textLength="33.5" lengthAdjust="spacingAndGlyphs" style="fill:#33ff33">763.46</text>
<g shape-rendering="crispEdges">
<rect x="3" y="451" width="3" height="30" fill="#9c9c9c"/>
<rect x="8" y="452" width="3" height="29" fill="#000"/>
<rect x="12" y="453" width="3" height="28" fill="#000"/>
<rect x="17" y="457" width="3" height="24" fill="#000"/>
<rect x="22" y="452" width="3" height="29" fill="#9c9c9c"/>
<rect x="26" y="450" width="3" height="31" fill="#000"/>
<rect x="31" y="450" width="3" height="31" fill="#000"/>
<rect x="35" y="440" width="3" height="41" fill="#000"/>
<rect x="40" y="452" width="3" height="29" fill="#9c9c9c"/>
<rect x="44" y="445" width="3" height="36" fill="#000"/>
<rect x="49" y="448" width="3" height="33" fill="#9c9c9c"/>
<rect x="53" y="448" width="3" height="33" fill="#000"/>
<rect x="58" y="450" width="3" height="31" fill="#000"/>
<rect x="63" y="429" width="3" height="52" fill="#000"/>
<rect x="67" y="455" width="3" height="26" fill="#000"/>
<rect x="72" y="449" width="3" height="32" fill="#9c9c9c"/>
<rect x="76" y="443" width="3" height="38" fill="#9c9c9c"/>
<rect x="81" y="441" width="3" height="40" fill="#9c9c9c"/>
<rect x="85" y="449" width="3" height="32" fill="#000"/>
<rect x="90" y="445" width="3" height="36" fill="#9c9c9c"/>
<rect x="95" y="441" width="3" height="40" fill="#000"/>
<rect x="99" y="432" width="3" height="49" fill="#9c9c9c"/>
<rect x="104" y="446" width="3" height="35" fill="#000"/>
<rect x="108" y="454" width="3" height="27" fill="#000"/>
<rect x="113" y="452" width="3" height="29" fill="#9c9c9c"/>
<rect x="117" y="449" width="3" height="32" fill="#000"/>
<rect x="122" y="454" width="3" height="27" fill="#000"/>
<rect x="126" y="446" width="3" height="35" fill="#000"/>
<rect x="131" y="451" width="3" height="30" fill="#9c9c9c"/>
<rect x="136" y="451" width="3" height="30" fill="#000"/>
<rect x="140" y="456" width="3" height="25" fill="#9c9c9c"/>
<rect x="145" y="454" width="3" height="27" fill="#000"/>
<rect x="149" y="457" width="3" height="24" fill="#000"/>
<rect x="154" y="453" width="3" height="28" fill="#9c9c9c"/>
<rect x="158" y="450" width="3" height="31" fill="#9c9c9c"/>
<rect x="163" y="456" width="3" height="25" fill="#9c9c9c"/>
<rect x="168" y="460" width="3" height="21" fill="#9c9c9c"/>
<rect x="172" y="452" width="3" height="29" fill="#000"/>
<rect x="177" y="447" width="3" height="34" fill="#000"/>
<rect x="181" y="445" width="3" height="36" fill="#9c9c9c"/>
<rect x="186" y="451" width="3" height="30" fill="#9c9c9c"/>
<rect x="190" y="449" width="3" height="32" fill="#000"/>
<rect x="195" y="446" width="3" height="35" fill="#9c9c9c"/>
<rect x="200" y="451" width="3" height="30" fill="#9c9c9c"/>
<rect x="204" y="446" width="3" height="35" fill="#9c9c9c"/>
<rect x="209" y="451" width="3" height="30" fill="#000"/>
<rect x="213" y="451" width="3" height="30" fill="#9c9c9c"/>
<rect x="218" y="442" width="3" height="39" fill="#000"/>
<rect x="222" y="447" width="3" height="34" fill="#9c9c9c"/>
<rect x="227" y="440" width="3" height="41" fill="#000"/>
<rect x="231" y="448" width="3" height="33" fill="#000"/>
<rect x="236" y="400" width="3" height="81" fill="#000"/>
<rect x="241" y="455" width="3" height="26" fill="#000"/>
<rect x="245" y="469" width="3" height="12" fill="#000"/>
<rect x="250" y="462" width="3" height="19" fill="#000"/>
<rect x="254" y="464" width="3" height="17" fill="#000"/>
<rect x="259" y="459" width="3" height="22" fill="#9c9c9c"/>
<rect x="263" y="455" width="3" height="26" fill="#000"/>
<rect x="268" y="455" width="3" height="26" fill="#9c9c9c"/>
<rect x="273" y="458" width="3" height="23" fill="#9c9c9c"/>
<rect x="277" y="451" width="3" height="30" fill="#9c9c9c"/>
<rect x="282" y="450" width="3" height="31" fill="#000"/>
<rect x="286" y="448" width="3" height="33" fill="#9c9c9c"/>
<rect x="291" y="451" width="3" height="30" fill="#9c9c9c"/>
<rect x="295" y="454" width="3" height="27" fill="#000"/>
<rect x="300" y="446" width="3" height="35" fill="#9c9c9c"/>
<rect x="304" y="453" width="3" height="28" fill="#000"/>
<rect x="309" y="450" width="3" height="31" fill="#9c9c9c"/>
<rect x="314" y="454" width="3" height="27" fill="#000"/>
<rect x="318" y="443" width="3" height="38" fill="#9c9c9c"/>
<rect x="323" y="448" width="3" height="33" fill="#000"/>
<rect x="327" y="453" width="3" height="28" fill="#000"/>
<rect x="332" y="448" width="3" height="33" fill="#9c9c9c"/>
<rect x="336" y="443" width="3" height="38" fill="#9c9c9c"/>
<rect x="341" y="451" width="3" height="30" fill="#9c9c9c"/>
<rect x="346" y="457" width="3" height="24" fill="#000"/>
<rect x="350" y="450" width="3" height="31" fill="#9c9c9c"/>
<rect x="355" y="451" width="3" height="30" fill="#000"/>
<rect x="359" y="443" width="3" height="38" fill="#9c9c9c"/>
<rect x="364" y="442" width="3" height="39" fill="#9c9c9c"/>
<rect x="368" y="444" width="3" height="37" fill="#000"/>
<rect x="373" y="446" width="3" height="35" fill="#9c9c9c"/>
<rect x="378" y="444" width="3" height="37" fill="#000"/>
<rect x="382" y="445" width="3" height="36" fill="#000"/>
<rect x="387" y="451" width="3" height="30" fill="#9c9c9c"/>
<rect x="391" y="450" width="3" height="31" fill="#000"/>
<rect x="396" y="452" width="3" height="29" fill="#9c9c9c"/>
<rect x="400" y="449" width="3" height="32" fill="#000"/>
<rect x="405" y="453" width="3" height="28" fill="#000"/>
<rect x="409" y="446" width="3" height="35" fill="#000"/>
<rect x="414" y="447" width="3" height="34" fill="#9c9c9c"/>
<rect x="419" y="448" width="3" height="33" fill="#000"/>
<rect x="423" y="444" width="3" height="37" fill="#9c9c9c"/>
<rect x="428" y="443" width="3" height="38" fill="#000"/>
<rect x="432" y="448" width="3" height="33" fill="#9c9c9c"/>
<rect x="437" y="443" width="3" height="38" fill="#9c9c9c"/>
<rect x="441" y="447" width="3" height="34" fill="#000"/>
<rect x="446" y="440" width="3" height="41" fill="#000"/>
<rect x="451" y="447" width="3" height="34" fill="#9c9c9c"/>
<rect x="455" y="443" width="3" height="38" fill="#000"/>
<rect x="460" y="452" width="3" height="29" fill="#9c9c9c"/>
<rect x="464" y="451" width="3" height="30" fill="#000"/>
<rect x="469" y="450" width="3" height="31" fill="#000"/>
<rect x="473" y="454" width="3" height="27" fill="#000"/>
<rect x="478" y="452" width="3" height="29" fill="#9c9c9c"/>
<rect x="482" y="450" width="3" height="31" fill="#000"/>
<rect x="487" y="450" width="3" height="31" fill="#9c9c9c"/>
<rect x="492" y="452" width="3" height="29" fill="#000"/>
<rect x="496" y="454" width="3" height="27" fill="#000"/>
<rect x="501" y="457" width="3" height="24" fill="#000"/>
<rect x="505" y="450" width="3" height="31" fill="#9c9c9c"/>
<rect x="510" y="454" width="3" height="27" fill="#000"/>
<rect x="514" y="385" width="3" height="96" fill="#000"/>
<rect x="519" y="449" width="3" height="32" fill="#9c9c9c"/>
<rect x="524" y="451" width="3" height="30" fill="#000"/>
<rect x="528" y="448" width="3" height="33" fill="#9c9c9c"/>
<rect x="533" y="448" width="3" height="33" fill="#000"/>
<rect x="537" y="453" width="3" height="28" fill="#000"/>
<rect x="542" y="448" width="3" height="33" fill="#000"/>
<rect x="546" y="449" width="3" height="32" fill="#000"/>
<rect x="551" y="452" width="3" height="29" fill="#000"/>
<rect x="556" y="445" width="3" height="36" fill="#000"/>
<rect x="560" y="446" width="3" height="35" fill="#9c9c9c"/>
<rect x="565" y="445" width="3" height="36" fill="#9c9c9c"/>
<rect x="569" y="449" width="3" height="32" fill="#000"/>
<rect x="574" y="451" width="3" height="30" fill="#000"/>
<rect x="578" y="448" width="3" height="33" fill="#9c9c9c"/>
<rect x="583" y="449" width="3" height="32" fill="#9c9c9c"/>
<rect x="587" y="450" width="3" height="31" fill="#000"/>
<rect x="592" y="447" width="3" height="34" fill="#000"/>
<rect x="597" y="448" width="3" height="33" fill="#000"/>
<rect x="601" y="438" width="3" height="43" fill="#000"/>
<rect x="606" y="449" width="3" height="32" fill="#000"/>
<rect x="610" y="451" width="3" height="30" fill="#9c9c9c"/>
<rect x="615" y="451" width="3" height="30" fill="#000"/>
<rect x="619" y="448" width="3" height="33" fill="#9c9c9c"/>
<rect x="624" y="448" width="3" height="33" fill="#9c9c9c"/>
<rect x="629" y="445" width="3" height="36" fill="#000"/>
<rect x="633" y="450" width="3" height="31" fill="#000"/>
<rect x="638" y="442" width="3" height="39" fill="#000"/>
<rect x="642" y="450" width="3" height="31" fill="#9c9c9c"/>
<rect x="647" y="452" width="3" height="29" fill="#000"/>
<rect x="651" y="452" width="3" height="29" fill="#000"/>
<rect x="656" y="448" width="3" height="33" fill="#000"/>
<rect x="660" y="445" width="3" height="36" fill="#000"/>
<rect x="665" y="447" width="3" height="34" fill="#9c9c9c"/>
<rect x="670" y="451" width="3" height="30" fill="#9c9c9c"/>
<rect x="674" y="453" width="3" height="28" fill="#000"/>
<rect x="679" y="453" width="3" height="28" fill="#000"/>
<rect x="683" y="453" width="3" height="28" fill="#000"/>
<rect x="688" y="446" width="3" height="35" fill="#9c9c9c"/>
<rect x="692" y="447" width="3" height="34" fill="#9c9c9c"/>
<rect x="697" y="457" width="3" height="24" fill="#000"/>
<rect x="702" y="458" width="3" height="23" fill="#9c9c9c"/>
<rect x="706" y="454" width="3" height="27" fill="#000"/>
<rect x="711" y="457" width="3" height="24" fill="#9c9c9c"/>
<rect x="715" y="457" width="3" height="24" fill="#9c9c9c"/>
<rect x="720" y="454" width="3" height="27" fill="#000"/>
<rect x="724" y="455" width="3" height="26" fill="#000"/>
<rect x="729" y="457" width="3" height="24" fill="#000"/>
<rect x="734" y="443" width="3" height="38" fill="#9c9c9c"/>
<rect x="738" y="456" width="3" height="25" fill="#9c9c9c"/>
<rect x="743" y="452" width="3" height="29" fill="#000"/>
<rect x="747" y="458" width="3" height="23" fill="#9c9c9c"/>
<rect x="752" y="455" width="3" height="26" fill="#000"/>
<rect x="756" y="455" width="3" height="26" fill="#000"/>
<rect x="761" y="459" width="3" height="22" fill="#000"/>
<rect x="765" y="457" width="3" height="24" fill="#9c9c9c"/>
<rect x="770" y="457" width="3" height="24" fill="#000"/>
<rect x="775" y="451" width="3" height="30" fill="#000"/>
<rect x="779" y="455" width="3" height="26" fill="#000"/>
<rect x="784" y="450" width="3" height="31" fill="#000"/>
<rect x="788" y="455" width="3" height="26" fill="#9c9c9c"/>
<rect x="793" y="452" width="3" height="29" fill="#000"/>
<rect x="797" y="453" width="3" height="28" fill="#000"/>
<rect x="802" y="405" width="3" height="76" fill="#000"/>
<rect x="807" y="454" width="3" height="27" fill="#000"/>
<rect x="811" y="450" width="3" height="31" fill="#9c9c9c"/>
<rect x="816" y="445" width="3" height="36" fill="#000"/>
<rect x="820" y="453" width="3" height="28" fill="#000"/>
<rect x="825" y="429" width="3" height="52" fill="#000"/>
<rect x="829" y="449" width="3" height="32" fill="#000"/>
<rect x="834" y="454" width="3" height="27" fill="#000"/>
<rect x="838" y="455" width="3" height="26" fill="#9c9c9c"/>
<rect x="843" y="460" width="3" height="21" fill="#000"/>
<rect x="848" y="455" width="3" height="26" fill="#9c9c9c"/>
<rect x="852" y="451" width="3" height="30" fill="#9c9c9c"/>
<rect x="857" y="459" width="3" height="22" fill="#000"/>
<rect x="861" y="455" width="3" height="26" fill="#9c9c9c"/>
<rect x="866" y="456" width="3" height="25" fill="#9c9c9c"/>
<rect x="870" y="451" width="3" height="30" fill="#000"/>
<rect x="875" y="448" width="3" height="33" fill="#9c9c9c"/>
<rect x="880" y="454" width="3" height="27" fill="#000"/>
<rect x="884" y="452" width="3" height="29" fill="#9c9c9c"/>
<rect x="889" y="452" width="3" height="29" fill="#000"/>
<rect x="893" y="459" width="3" height="22" fill="#000"/>
<rect x="898" y="455" width="3" height="26" fill="#000"/>
<rect x="902" y="457" width="3" height="24" fill="#000"/>
<rect x="907" y="454" width="3" height="27" fill="#000"/>
<rect x="912" y="457" width="3" height="24" fill="#9c9c9c"/>
</g>
<g shape-rendering="crispEdges" fill="#a6a6a6">
<rect x="965" y="392" width="4" height="1"/>
<rect x="965" y="422" width="4" height="1"/>
<rect x="965" y="451" width="4" height="1"/>
</g>
<text x="971.5" y="395.8" class="ax" textLength="24.5" lengthAdjust="spacingAndGlyphs">150M</text>
<text x="971.5" y="425.8" class="ax" textLength="24.5" lengthAdjust="spacingAndGlyphs">100M</text>
<text x="971.5" y="455.3" class="ax" textLength="18.5" lengthAdjust="spacingAndGlyphs">50M</text>
<rect x="969.5" y="449.5" width="33" height="15" fill="url(#gBox)" stroke="#b0b0b0" stroke-width="1" shape-rendering="crispEdges"/>
<text x="971.5" y="461.5" class="ax" textLength="29.0" lengthAdjust="spacingAndGlyphs" style="fill:#9a9a9a">39.7M</text>
<path d="M1,515 L1.0,538.0 L4.5,540.5 L9.5,530.0 L13.5,526.0 L18.5,523.5 L23.5,525.5 L27.5,520.5 L32.5,519.3 L36.5,516.0 L41.5,519.5 L45.5,517.5 L50.5,525.5 L54.5,523.5 L59.5,522.5 L64.5,521.0 L68.5,519.3 L73.5,523.3 L77.5,524.5 L82.5,527.5 L86.5,521.3 L91.5,525.5 L96.5,524.3 L100.5,532.5 L105.5,526.5 L109.5,525.3 L114.5,529.5 L118.5,527.2 L123.5,524.3 L127.5,522.3 L132.5,526.5 L137.5,526.5 L141.5,528.7 L146.5,524.5 L150.5,522.3 L155.5,527.0 L159.5,528.7 L164.5,532.3 L169.5,533.5 L173.5,533.5 L178.5,531.3 L182.5,533.7 L187.5,536.7 L191.5,533.5 L196.5,533.3 L201.5,535.2 L205.5,543.5 L210.5,539.3 L214.5,541.3 L219.5,535.3 L223.5,537.5 L228.5,529.3 L232.5,528.2 L237.5,527.3 L242.5,527.3 L246.5,524.0 L251.5,520.3 L255.5,518.3 L260.5,524.3 L264.5,520.5 L269.5,528.3 L274.5,530.3 L278.5,530.3 L283.5,526.3 L287.5,530.2 L292.5,532.3 L296.5,531.5 L301.5,540.5 L305.5,534.5 L310.5,535.5 L315.5,534.3 L319.5,535.5 L324.5,532.5 L328.5,530.3 L333.5,536.0 L337.5,544.3 L342.5,545.5 L347.5,541.3 L351.5,543.5 L356.5,542.3 L360.5,546.5 L365.5,551.5 L369.5,547.3 L374.5,549.0 L379.5,542.0 L383.5,537.3 L388.5,539.5 L392.5,533.2 L397.5,534.5 L401.5,532.3 L406.5,527.3 L410.5,526.5 L415.5,526.3 L420.5,524.3 L424.5,527.5 L429.5,522.3 L433.5,522.3 L438.5,525.5 L442.5,525.3 L447.5,523.3 L452.5,526.5 L456.5,522.3 L461.5,527.5 L465.5,525.5 L470.5,524.3 L474.5,523.3 L479.5,530.3 L483.5,530.3 L488.5,534.5 L493.5,533.3 L497.5,530.3 L502.5,526.3 L506.5,531.5 L511.5,528.5 L515.5,527.3 L520.5,528.5 L525.5,525.3 L529.5,527.5 L534.5,523.5 L538.5,518.5 L543.5,518.5 L547.5,516.5 L552.5,515.3 L557.5,514.3 L561.5,517.5 L566.5,527.5 L570.5,523.5 L575.5,521.3 L579.5,529.3 L584.5,530.5 L588.5,525.3 L593.5,521.3 L598.5,517.3 L602.5,515.3 L607.5,513.3 L611.5,514.3 L616.5,513.3 L620.5,514.3 L625.5,517.5 L630.5,517.5 L634.5,515.5 L639.5,515.5 L643.5,518.5 L648.5,517.5 L652.5,515.8 L657.5,515.0 L661.5,512.5 L666.5,523.3 L671.5,524.5 L675.5,522.5 L680.5,520.5 L684.5,520.3 L689.5,530.3 L693.5,531.5 L698.5,529.3 L703.5,531.5 L707.5,525.3 L712.5,526.5 L716.5,527.5 L721.5,525.7 L725.5,525.3 L730.5,520.3 L735.5,521.5 L739.5,523.7 L744.5,521.3 L748.5,522.5 L753.5,519.5 L757.5,515.3 L762.5,514.3 L766.5,516.3 L771.5,514.3 L776.5,512.3 L780.5,509.0 L785.5,507.3 L789.5,509.5 L794.5,506.3 L798.5,504.3 L803.5,502.5 L808.5,502.3 L812.5,520.5 L817.5,518.5 L821.5,517.5 L826.5,517.3 L830.5,517.3 L835.5,516.0 L839.5,518.5 L844.5,516.3 L849.5,522.0 L853.5,523.5 L858.5,520.5 L862.5,528.0 L867.5,533.5 L871.5,528.3 L876.5,531.5 L881.5,523.5 L885.5,532.5 L890.5,530.3 L894.5,530.3 L899.5,526.3 L903.5,524.3 L908.5,523.3 L913.5,528.3 L913.5,515 Z" fill="url(#gRsi)" clip-path="url(#cRsi)"/>
<path d="M1.0,538.0 L4.5,540.5 L9.5,530.0 L13.5,526.0 L18.5,523.5 L23.5,525.5 L27.5,520.5 L32.5,519.3 L36.5,516.0 L41.5,519.5 L45.5,517.5 L50.5,525.5 L54.5,523.5 L59.5,522.5 L64.5,521.0 L68.5,519.3 L73.5,523.3 L77.5,524.5 L82.5,527.5 L86.5,521.3 L91.5,525.5 L96.5,524.3 L100.5,532.5 L105.5,526.5 L109.5,525.3 L114.5,529.5 L118.5,527.2 L123.5,524.3 L127.5,522.3 L132.5,526.5 L137.5,526.5 L141.5,528.7 L146.5,524.5 L150.5,522.3 L155.5,527.0 L159.5,528.7 L164.5,532.3 L169.5,533.5 L173.5,533.5 L178.5,531.3 L182.5,533.7 L187.5,536.7 L191.5,533.5 L196.5,533.3 L201.5,535.2 L205.5,543.5 L210.5,539.3 L214.5,541.3 L219.5,535.3 L223.5,537.5 L228.5,529.3 L232.5,528.2 L237.5,527.3 L242.5,527.3 L246.5,524.0 L251.5,520.3 L255.5,518.3 L260.5,524.3 L264.5,520.5 L269.5,528.3 L274.5,530.3 L278.5,530.3 L283.5,526.3 L287.5,530.2 L292.5,532.3 L296.5,531.5 L301.5,540.5 L305.5,534.5 L310.5,535.5 L315.5,534.3 L319.5,535.5 L324.5,532.5 L328.5,530.3 L333.5,536.0 L337.5,544.3 L342.5,545.5 L347.5,541.3 L351.5,543.5 L356.5,542.3 L360.5,546.5 L365.5,551.5 L369.5,547.3 L374.5,549.0 L379.5,542.0 L383.5,537.3 L388.5,539.5 L392.5,533.2 L397.5,534.5 L401.5,532.3 L406.5,527.3 L410.5,526.5 L415.5,526.3 L420.5,524.3 L424.5,527.5 L429.5,522.3 L433.5,522.3 L438.5,525.5 L442.5,525.3 L447.5,523.3 L452.5,526.5 L456.5,522.3 L461.5,527.5 L465.5,525.5 L470.5,524.3 L474.5,523.3 L479.5,530.3 L483.5,530.3 L488.5,534.5 L493.5,533.3 L497.5,530.3 L502.5,526.3 L506.5,531.5 L511.5,528.5 L515.5,527.3 L520.5,528.5 L525.5,525.3 L529.5,527.5 L534.5,523.5 L538.5,518.5 L543.5,518.5 L547.5,516.5 L552.5,515.3 L557.5,514.3 L561.5,517.5 L566.5,527.5 L570.5,523.5 L575.5,521.3 L579.5,529.3 L584.5,530.5 L588.5,525.3 L593.5,521.3 L598.5,517.3 L602.5,515.3 L607.5,513.3 L611.5,514.3 L616.5,513.3 L620.5,514.3 L625.5,517.5 L630.5,517.5 L634.5,515.5 L639.5,515.5 L643.5,518.5 L648.5,517.5 L652.5,515.8 L657.5,515.0 L661.5,512.5 L666.5,523.3 L671.5,524.5 L675.5,522.5 L680.5,520.5 L684.5,520.3 L689.5,530.3 L693.5,531.5 L698.5,529.3 L703.5,531.5 L707.5,525.3 L712.5,526.5 L716.5,527.5 L721.5,525.7 L725.5,525.3 L730.5,520.3 L735.5,521.5 L739.5,523.7 L744.5,521.3 L748.5,522.5 L753.5,519.5 L757.5,515.3 L762.5,514.3 L766.5,516.3 L771.5,514.3 L776.5,512.3 L780.5,509.0 L785.5,507.3 L789.5,509.5 L794.5,506.3 L798.5,504.3 L803.5,502.5 L808.5,502.3 L812.5,520.5 L817.5,518.5 L821.5,517.5 L826.5,517.3 L830.5,517.3 L835.5,516.0 L839.5,518.5 L844.5,516.3 L849.5,522.0 L853.5,523.5 L858.5,520.5 L862.5,528.0 L867.5,533.5 L871.5,528.3 L876.5,531.5 L881.5,523.5 L885.5,532.5 L890.5,530.3 L894.5,530.3 L899.5,526.3 L903.5,524.3 L908.5,523.3 L913.5,528.3" fill="none" stroke="#000" stroke-width="1.2" stroke-linejoin="round"/>
<g shape-rendering="crispEdges" fill="#3434e0">
<rect x="1" y="515" width="963" height="1"/><rect x="1" y="549" width="963" height="1"/>
</g>
<g shape-rendering="crispEdges" fill="#a6a6a6">
<rect x="965" y="489" width="4" height="1"/>
<rect x="965" y="498" width="2" height="1"/>
<rect x="965" y="506" width="4" height="1"/>
<rect x="965" y="515" width="2" height="1"/>
<rect x="965" y="523" width="4" height="1"/>
<rect x="965" y="532" width="2" height="1"/>
<rect x="965" y="540" width="4" height="1"/>
<rect x="965" y="549" width="2" height="1"/>
<rect x="965" y="557" width="4" height="1"/>
<rect x="965" y="566" width="2" height="1"/>
<rect x="965" y="575" width="4" height="1"/>
</g>
<text x="971.5" y="494.5" class="axb" textLength="22.5" lengthAdjust="spacingAndGlyphs">100</text>
<text x="971.5" y="577.2" class="axb" textLength="7.5" lengthAdjust="spacingAndGlyphs">0</text>
<text x="971.0" y="509.8" class="ax" textLength="12.0" lengthAdjust="spacingAndGlyphs">80</text>
<text x="971.0" y="526.8" class="ax" textLength="12.0" lengthAdjust="spacingAndGlyphs">60</text>
<text x="971.0" y="543.8" class="ax" textLength="12.0" lengthAdjust="spacingAndGlyphs">40</text>
<text x="971.0" y="560.8" class="ax" textLength="12.0" lengthAdjust="spacingAndGlyphs">20</text>
<rect x="969.5" y="520.5" width="37" height="15" fill="url(#gBox)" stroke="#b0b0b0" stroke-width="1" shape-rendering="crispEdges"/>
<text x="971.5" y="532.5" class="ax" textLength="33.5" lengthAdjust="spacingAndGlyphs" style="fill:#000">54.814</text>
<g shape-rendering="crispEdges" fill="#a6a6a6">
<rect x="13" y="580" width="1" height="3"/>
<rect x="45" y="580" width="1" height="3"/>
<rect x="82" y="580" width="1" height="3"/>
<rect x="109" y="580" width="1" height="3"/>
<rect x="141" y="580" width="1" height="3"/>
<rect x="173" y="580" width="1" height="3"/>
<rect x="210" y="580" width="1" height="3"/>
<rect x="242" y="580" width="1" height="3"/>
<rect x="269" y="580" width="1" height="3"/>
<rect x="310" y="580" width="1" height="3"/>
<rect x="342" y="580" width="1" height="3"/>
<rect x="365" y="580" width="1" height="3"/>
<rect x="406" y="580" width="1" height="3"/>
<rect x="452" y="580" width="1" height="3"/>
<rect x="502" y="580" width="1" height="3"/>
<rect x="547" y="580" width="1" height="3"/>
<rect x="598" y="580" width="1" height="3"/>
<rect x="643" y="580" width="1" height="3"/>
<rect x="693" y="580" width="1" height="3"/>
<rect x="739" y="580" width="1" height="3"/>
<rect x="789" y="580" width="1" height="3"/>
<rect x="835" y="580" width="1" height="3"/>
<rect x="858" y="580" width="1" height="3"/>
<rect x="890" y="580" width="1" height="3"/>
<rect x="935" y="580" width="1" height="3"/>
</g>
<text x="13.5" y="596" class="xl" textLength="11.5" lengthAdjust="spacingAndGlyphs">11</text>
<text x="45.5" y="596" class="xl" textLength="11.5" lengthAdjust="spacingAndGlyphs">22</text>
<text x="82.5" y="596" class="xb" textLength="23.0" lengthAdjust="spacingAndGlyphs">Nov</text>
<text x="109.5" y="596" class="xl" textLength="11.5" lengthAdjust="spacingAndGlyphs">11</text>
<text x="141.5" y="596" class="xl" textLength="11.5" lengthAdjust="spacingAndGlyphs">20</text>
<text x="173.5" y="596" class="xb" textLength="22.0" lengthAdjust="spacingAndGlyphs">Dec</text>
<text x="210.5" y="596" class="xl" textLength="11.5" lengthAdjust="spacingAndGlyphs">12</text>
<text x="242.5" y="596" class="xl" textLength="11.5" lengthAdjust="spacingAndGlyphs">23</text>
<text x="269.5" y="596" class="xb" textLength="31.0" lengthAdjust="spacingAndGlyphs">2014</text>
<text x="310.5" y="596" class="xl" textLength="11.5" lengthAdjust="spacingAndGlyphs">15</text>
<text x="342.5" y="596" class="xl" textLength="11.5" lengthAdjust="spacingAndGlyphs">27</text>
<text x="365.5" y="596" class="xb" textLength="21.5" lengthAdjust="spacingAndGlyphs">Feb</text>
<text x="406.5" y="596" class="xl" textLength="11.5" lengthAdjust="spacingAndGlyphs">14</text>
<text x="452.5" y="596" class="xb" textLength="22.5" lengthAdjust="spacingAndGlyphs">Mar</text>
<text x="502.5" y="596" class="xl" textLength="11.5" lengthAdjust="spacingAndGlyphs">18</text>
<text x="547.5" y="596" class="xb" textLength="21.5" lengthAdjust="spacingAndGlyphs">Apr</text>
<text x="598.5" y="596" class="xl" textLength="11.5" lengthAdjust="spacingAndGlyphs">16</text>
<text x="643.5" y="596" class="xb" textLength="25.0" lengthAdjust="spacingAndGlyphs">May</text>
<text x="693.5" y="596" class="xl" textLength="11.5" lengthAdjust="spacingAndGlyphs">16</text>
<text x="739.5" y="596" class="xb" textLength="22.0" lengthAdjust="spacingAndGlyphs">Jun</text>
<text x="789.5" y="596" class="xl" textLength="11.5" lengthAdjust="spacingAndGlyphs">17</text>
<text x="835.5" y="596" class="xb" textLength="17.0" lengthAdjust="spacingAndGlyphs">Jul</text>
<text x="858.5" y="596" class="xl" textLength="11.5" lengthAdjust="spacingAndGlyphs">09</text>
<text x="890.5" y="596" class="xl" textLength="11.5" lengthAdjust="spacingAndGlyphs">18</text>
<text x="935.5" y="596" class="xb" textLength="24.0" lengthAdjust="spacingAndGlyphs">Aug</text>
</svg>
</body></html>
